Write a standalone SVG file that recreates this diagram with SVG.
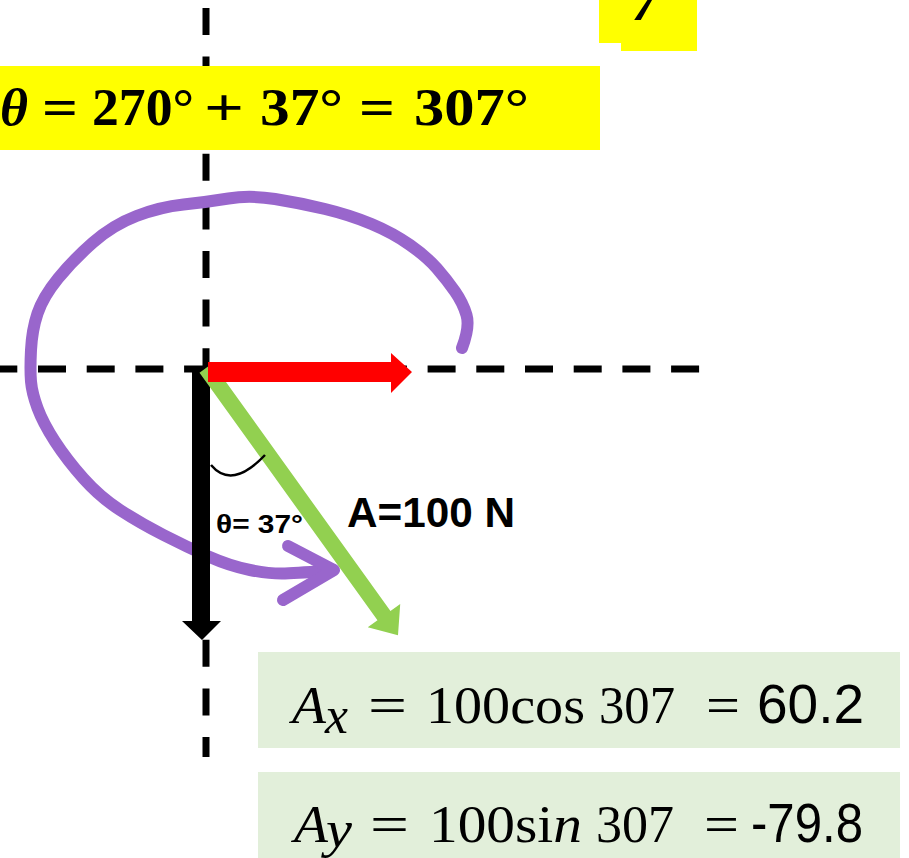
<svg xmlns="http://www.w3.org/2000/svg" width="909" height="858" viewBox="0 0 909 858">
<style>
.axis{fill:none;stroke:#000;stroke-width:7}
.purple{fill:none;stroke:#9966CC;stroke-width:12;stroke-linecap:round;stroke-linejoin:round}
.math{font-family:"Liberation Serif","DejaVu Serif",serif;font-size:52px;fill:#000}
.it{font-style:italic}
.sans{font-family:"Liberation Sans",Arial,sans-serif;font-size:55px;fill:#000}
.hdr{font-family:"Liberation Serif","DejaVu Serif",serif;font-size:52px;font-weight:bold;fill:#000}
.lbl{font-family:"Liberation Sans",Arial,sans-serif;fill:#000}
</style>
<rect width="909" height="858" fill="#fff"/>
<g id="top-yellow">
<rect x="599" y="0" width="98" height="43" fill="#FFFF00"/>
<rect x="621" y="0" width="76" height="51" fill="#FFFF00"/>
<text class="hdr it" x="632" y="20">7</text>
</g>
<g id="axes">
<line class="axis" x1="206" y1="8" x2="206" y2="757" stroke-dasharray="27 21.6"/>
<line class="axis" x1="-10.7" y1="369" x2="700" y2="369" stroke-dasharray="28 20.7"/>
</g>
<g id="equation">
<rect x="0" y="66" width="600" height="84" fill="#FFFF00"/>
<text class="hdr it" x="0" y="125" textLength="28" lengthAdjust="spacingAndGlyphs">θ</text>
<text class="hdr" x="42" y="125" textLength="36" lengthAdjust="spacingAndGlyphs">=</text>
<text class="hdr" x="92" y="125" textLength="102" lengthAdjust="spacingAndGlyphs">270°</text>
<text class="hdr" x="204" y="125" textLength="40" lengthAdjust="spacingAndGlyphs">+</text>
<text class="hdr" x="260" y="125" textLength="83" lengthAdjust="spacingAndGlyphs">37°</text>
<text class="hdr" x="359" y="125" textLength="36" lengthAdjust="spacingAndGlyphs">=</text>
<text class="hdr" x="414" y="125" textLength="115" lengthAdjust="spacingAndGlyphs">307°</text>
</g>
<g id="rotation">
<path class="purple" d="M462,348 Q470,327 466.5,315 Q463,303 455,291.5 Q447,280 437,268.5 Q427,257 410,245 Q393,233 371.5,224 Q350,215 325,209 Q300,203 275,199 Q250,195 228.5,198.5 Q207,202 183.5,204.5 Q160,207 136.5,216 Q113,225 93,242.5 Q73,260 58,278.5 Q43,297 37.5,313.5 Q32,330 31,350 Q30,370 31,381.5 Q32,393 37.5,408 Q43,423 55,441.5 Q67,460 83.5,478.5 Q100,497 120,510 Q140,523 163.5,535 Q187,547 208.5,556.5 Q230,566 250,570 Q270,574 285,573.5 Q300,573 333,570"/>
<polyline class="purple" points="288,546 334,570 283,600"/>
</g>
<g id="vector-Ay">
<polygon points="192,368 210,368 210,621 221,621 202,640 182,621 192,621" fill="#000"/>
</g>
<g id="vector-A">
<polygon points="0,-8 305,-8 305,-20 329,0 305,20 305,8 0,8" fill="#92D050" transform="translate(206,368) rotate(54.3)"/>
</g>
<g id="vector-Ax">
<polygon points="208,362 391,362 391,353 412,372 391,393 391,382 208,382" fill="#FF0000"/>
</g>
<g id="angle">
<path d="M211 465 Q232 490 265 455" fill="none" stroke="#000" stroke-width="2.5"/>
<text class="lbl" x="216" y="533" font-size="25" font-weight="bold" textLength="87" lengthAdjust="spacingAndGlyphs">θ= 37°</text>
</g>
<g id="label-A">
<text class="lbl" x="347" y="527" font-size="42" font-weight="bold" textLength="168" lengthAdjust="spacingAndGlyphs">A=100 N</text>
</g>
<g id="Ax-box">
<rect x="258" y="652" width="642" height="96" fill="#E2EFDA"/>
<text class="math it" x="292" y="723" textLength="34" lengthAdjust="spacingAndGlyphs">A</text>
<text class="math it" x="325" y="733" font-size="44" textLength="23" lengthAdjust="spacingAndGlyphs">x</text>
<text class="math" x="368" y="723" textLength="39" lengthAdjust="spacingAndGlyphs">=</text>
<text class="math" x="426" y="723" textLength="159" lengthAdjust="spacingAndGlyphs">100cos</text>
<text class="math" x="599" y="723" textLength="76" lengthAdjust="spacingAndGlyphs">307</text>
<text class="math" x="706" y="723" textLength="34" lengthAdjust="spacingAndGlyphs">=</text>
<text class="sans" x="757" y="723" textLength="107" lengthAdjust="spacingAndGlyphs">60.2</text>
</g>
<g id="Ay-box">
<rect x="258" y="772" width="642" height="86" fill="#E2EFDA"/>
<text class="math it" x="294" y="842" textLength="34" lengthAdjust="spacingAndGlyphs">A</text>
<text class="math it" x="326" y="847" font-size="40" textLength="26" lengthAdjust="spacingAndGlyphs">y</text>
<text class="math" x="370" y="842" textLength="39" lengthAdjust="spacingAndGlyphs">=</text>
<text class="math" x="429" y="842" textLength="153" lengthAdjust="spacingAndGlyphs">100si<tspan class="it">n</tspan></text>
<text class="math" x="596" y="842" textLength="78" lengthAdjust="spacingAndGlyphs">307</text>
<text class="math" x="704" y="842" textLength="35" lengthAdjust="spacingAndGlyphs">=</text>
<text class="sans" x="751" y="842" textLength="112" lengthAdjust="spacingAndGlyphs">-79.8</text>
</g>
</svg>
